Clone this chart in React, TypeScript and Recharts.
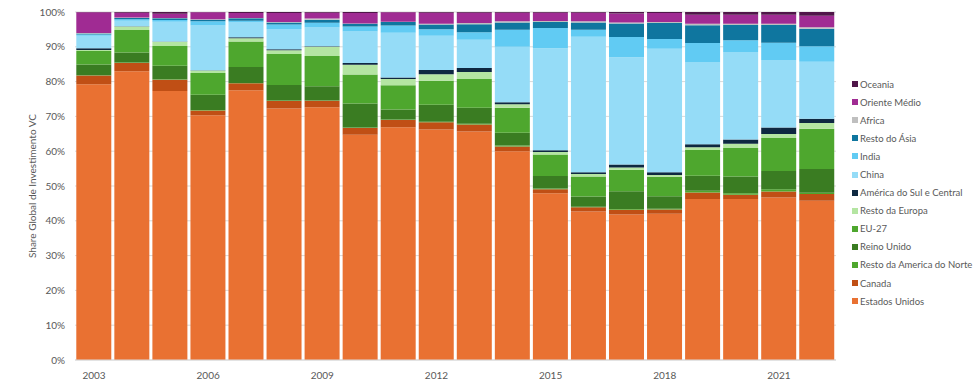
import React from "react";
import {
  BarChart,
  Bar,
  XAxis,
  YAxis,
  CartesianGrid,
} from "recharts";

const anos = [
  2003, 2004, 2005, 2006, 2007, 2008, 2009, 2010, 2011, 2012,
  2013, 2014, 2015, 2016, 2017, 2018, 2019, 2020, 2021, 2022,
];

// shares in %, bottom of the stack first
const estadosUnidos = [79.9, 83.4, 77.5, 70.6, 77.9, 72.4, 72.9, 64.9, 67.1, 66.6, 65.8, 60.2, 48.0, 42.8, 41.8, 42.1, 46.2, 46.2, 46.6, 45.7];
const canada = [2.5, 2.4, 3.3, 1.4, 2.0, 2.2, 1.9, 2.0, 2.1, 2.1, 2.0, 1.3, 1.1, 1.2, 1.4, 1.2, 1.9, 1.2, 1.7, 1.9];
const restoAmericaNorte = [0.1, 0.1, 0.1, 0.1, 0.1, 0.1, 0.1, 0.1, 0.1, 0.2, 0.2, 0.3, 0.2, 0.2, 0.2, 0.2, 0.5, 0.4, 0.7, 0.4];
const reinoUnido = [3.1, 2.9, 3.9, 4.4, 4.6, 4.5, 4.1, 6.9, 2.9, 4.9, 4.6, 3.7, 3.6, 2.9, 5.1, 3.6, 4.3, 4.8, 5.2, 6.8];
const eu27 = [3.9, 6.5, 5.7, 6.3, 7.4, 8.9, 8.7, 8.4, 7.0, 6.9, 8.3, 7.2, 6.2, 5.8, 6.2, 5.6, 7.4, 8.2, 9.5, 11.5];
const restoEuropa = [0.3, 1.0, 1.2, 0.7, 0.9, 1.1, 2.7, 2.8, 1.8, 1.9, 2.0, 1.0, 0.7, 0.7, 0.6, 0.5, 0.8, 1.2, 1.1, 1.7];
const americaSul = [0.5, 0.1, 0.1, 0.1, 0.3, 0.3, 0.1, 0.5, 0.4, 1.2, 1.2, 0.6, 0.5, 0.5, 0.9, 0.8, 0.8, 1.2, 1.9, 1.2];
const china = [3.6, 1.6, 5.7, 12.9, 4.3, 5.8, 5.4, 9.1, 12.9, 9.9, 8.1, 16.0, 29.4, 39.1, 30.8, 35.5, 23.5, 25.1, 19.3, 16.3];
const india = [0.4, 0.4, 0.5, 1.2, 0.5, 1.3, 1.4, 1.4, 2.1, 1.9, 2.2, 4.9, 5.8, 2.0, 5.8, 2.8, 5.6, 3.4, 5.0, 4.5];
const restoAsia = [0.3, 0.4, 0.5, 0.5, 0.7, 0.6, 0.9, 0.8, 1.0, 1.4, 2.3, 2.1, 1.7, 2.1, 3.9, 4.6, 5.1, 4.4, 5.1, 5.0];
const africa = [0.1, 0.1, 0.1, 0.1, 0.1, 0.1, 0.3, 0.1, 0.1, 0.2, 0.3, 0.3, 0.3, 0.3, 0.3, 0.3, 0.4, 0.3, 0.3, 0.4];
const orienteMedio = [6.0, 1.4, 1.2, 2.0, 1.4, 2.6, 1.7, 3.0, 2.7, 3.2, 3.0, 2.5, 2.4, 2.5, 2.6, 2.6, 2.6, 2.6, 2.6, 3.3];
const oceania = [0.1, 0.2, 0.5, 0.1, 0.3, 0.3, 0.2, 0.3, 0.1, 0.2, 0.2, 0.2, 0.2, 0.2, 0.4, 0.3, 0.8, 0.8, 0.8, 1.1];

const series = [
  { key: "Estados Unidos", values: estadosUnidos, color: "#E97132" },
  { key: "Canada", values: canada, color: "#C04F15" },
  { key: "Resto da America do Norte", values: restoAmericaNorte, color: "#4EA72E" },
  { key: "Reino Unido", values: reinoUnido, color: "#3A7C22" },
  { key: "EU-27", values: eu27, color: "#4EA72E" },
  { key: "Resto da Europa", values: restoEuropa, color: "#B4E5A2" },
  { key: "América do Sul e Central", values: americaSul, color: "#0E2841" },
  { key: "China", values: china, color: "#95DCF7" },
  { key: "India", values: india, color: "#61CBF3" },
  { key: "Resto do Ásia", values: restoAsia, color: "#0F769F" },
  { key: "Africa", values: africa, color: "#BFBFBF" },
  { key: "Oriente Médio", values: orienteMedio, color: "#A02B93" },
  { key: "Oceania", values: oceania, color: "#501549" },
];

const data = anos.map((ano, i) => {
  const row: Record<string, number> = { ano };
  series.forEach((s) => {
    row[s.key] = s.values[i];
  });
  return row;
});

const font = "Lato, 'Open Sans', sans-serif";
const textColor = "#595959";

// legend drawn outside the chart so it takes no room from the plot
function LegendaVertical() {
  return (
    <div
      style={{
        position: "absolute",
        left: 852,
        top: 75,
        fontFamily: font,
        fontSize: 9.5,
        color: textColor,
      }}
    >
      {[...series].reverse().map((s) => (
        <div
          key={s.key}
          style={{ display: "flex", alignItems: "center", height: 18.1, whiteSpace: "nowrap" }}
        >
          <span
            style={{
              display: "inline-block",
              width: 6,
              height: 6,
              background: s.color,
              marginRight: 2,
            }}
          />
          {s.key}
        </div>
      ))}
    </div>
  );
}

export default function App() {
  return (
    <div style={{ position: "absolute", left: 0, top: 0, width: 975, height: 385, background: "#fff" }}>
      <BarChart
        width={975}
        height={385}
        data={data}
        stackOffset="expand"
        barCategoryGap="3.4%"
        margin={{ top: 12, right: 139, left: 20, bottom: 0 }}
      >
        <CartesianGrid vertical={false} stroke="#D9D9D9" />
        <XAxis
          dataKey="ano"
          interval={2}
          tickLine={false}
          axisLine={{ stroke: "#D9D9D9" }}
          tick={{ fill: textColor, fontSize: 10, fontFamily: font }}
          tickMargin={6}
          height={25}
        />
        <YAxis
          width={55}
          domain={[0, 1]}
          ticks={[0, 0.1, 0.2, 0.3, 0.4, 0.5, 0.6, 0.7, 0.8, 0.9, 1]}
          tickFormatter={(v: number) => `${Math.round(v * 100)}%`}
          tickLine={false}
          axisLine={false}
          tick={{ fill: textColor, fontSize: 10, fontFamily: font }}
          tickMargin={4}
          label={{
            value: "Share Global de Investimento VC",
            angle: -90,
            position: "insideLeft",
            offset: 12,
            style: { fill: textColor, fontSize: 10, fontFamily: font, textAnchor: "middle" },
          }}
        />
        {series.map((s) => (
          <Bar
            key={s.key}
            dataKey={s.key}
            stackId="a"
            fill={s.color}
            isAnimationActive={false}
          />
        ))}
      </BarChart>
      <LegendaVertical />
    </div>
  );
}
